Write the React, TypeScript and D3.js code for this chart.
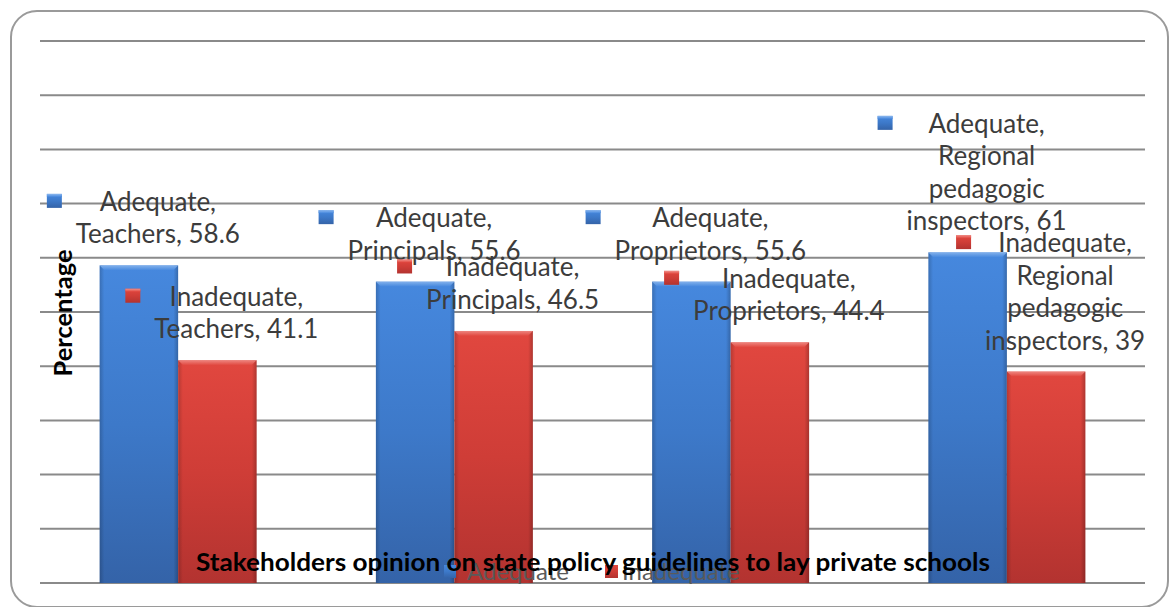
import React from "react";
import * as d3 from "d3";

const categories = ["Teachers", "Principals", "Proprietors", "Regional pedagogic inspectors"];
const categoryLines = [["Teachers"], ["Principals"], ["Proprietors"], ["Regional", "pedagogic", "inspectors"]];
const seriesNames = ["Adequate", "Inadequate"];
const adequate = [58.6, 55.6, 55.6, 61];
const inadequate = [41.1, 46.5, 44.4, 39];
const yTicks = [0, 10, 20, 30, 40, 50, 60, 70, 80, 90, 100];
const xTitle = "Stakeholders opinion on state policy guidelines to lay private schools";
const yTitle = "Percentage";

const W = 1170;
const H = 607;
const FONT = "Lato, 'Open Sans', sans-serif";
const LABEL_SIZE = 26;

let canvasCtx: CanvasRenderingContext2D | null = null;
function measure(text: string, font: string): number {
  if (!canvasCtx) {
    const c = document.createElement("canvas");
    canvasCtx = c.getContext("2d");
  }
  if (!canvasCtx) return text.length * 12;
  canvasCtx.font = font;
  return canvasCtx.measureText(text).width;
}

export default function App() {
  const x0 = d3.scaleBand<string>().domain(categories).range([40, 1145]).paddingInner(0).paddingOuter(0);
  const x1 = d3.scaleBand<string>().domain(seriesNames).range([0, x0.bandwidth()]).paddingInner(0).paddingOuter(0.76);
  const y = d3.scaleLinear().domain([0, 100]).range([583, 41]);

  const seriesValues = [adequate, inadequate];
  const grads = ["gBlue", "gRed"];
  const tops = ["tBlue", "tRed"];
  const lineH = 32.5;
  const labelFont = `${LABEL_SIZE}px Lato`;

  const bars: any[] = [];
  const labels: any[] = [];
  categories.forEach((cat, ci) => {
    seriesNames.forEach((s, si) => {
      const v = seriesValues[si][ci];
      const bx = (x0(cat) as number) + (x1(s) as number);
      const bw = x1.bandwidth();
      const by = y(v);
      const bh = y(0) - by;
      bars.push({ key: `${ci}-${si}`, bx, bw, by, bh, si });
      const cl = categoryLines[ci];
      const lines = [`${s},`, ...cl.slice(0, -1), `${cl[cl.length - 1]}, ${v}`];
      const cx = bx + bw / 2 + 19;
      const lastBase = by - 22;
      const firstBase = lastBase - (lines.length - 1) * lineH;
      const maxW = Math.max(...lines.map((l) => measure(l, labelFont)));
      labels.push({ key: `l${ci}-${si}`, lines, cx, firstBase, keyX: cx - maxW / 2 - 14 - 15, si });
    });
  });

  return (
    <svg width={W} height={H} style={{ position: "absolute", left: 0, top: 0, background: "#fff" }}>
      <defs>
        <linearGradient id="gBlue" x1="0" y1="0" x2="0" y2="1">
          <stop offset="0" stopColor="#4688de" />
          <stop offset="0.5" stopColor="#3d79c9" />
          <stop offset="1" stopColor="#3463a8" />
        </linearGradient>
        <linearGradient id="gRed" x1="0" y1="0" x2="0" y2="1">
          <stop offset="0" stopColor="#e1473f" />
          <stop offset="0.5" stopColor="#cf3d37" />
          <stop offset="1" stopColor="#b33330" />
        </linearGradient>
        <linearGradient id="edge" x1="0" y1="0" x2="1" y2="0">
          <stop offset="0" stopColor="#000" stopOpacity="0.18" />
          <stop offset="0.06" stopColor="#000" stopOpacity="0" />
          <stop offset="0.94" stopColor="#000" stopOpacity="0" />
          <stop offset="1" stopColor="#000" stopOpacity="0.22" />
        </linearGradient>
        <linearGradient id="tBlue" x1="0" y1="0" x2="0" y2="1">
          <stop offset="0" stopColor="#8db8ee" />
          <stop offset="1" stopColor="#4688de" />
        </linearGradient>
        <linearGradient id="tRed" x1="0" y1="0" x2="0" y2="1">
          <stop offset="0" stopColor="#f0908a" />
          <stop offset="1" stopColor="#e1473f" />
        </linearGradient>
      </defs>
      <rect x={11} y={11} width={1157} height={596} rx={26} fill="#fff" stroke="#9a9a9a" strokeWidth={2} />
      <g>
        {yTicks.map((t) => (
          <line key={t} x1={40} x2={1145} y1={y(t)} y2={y(t)} stroke="#8a8a8a" strokeWidth={2} />
        ))}
      </g>
      <g>
        {bars.map((b) => (
          <g key={b.key}>
            <rect x={b.bx} y={b.by} width={b.bw} height={b.bh} fill={`url(#${grads[b.si]})`} />
            <rect x={b.bx} y={b.by} width={b.bw} height={b.bh} fill="url(#edge)" />
            <path
              d={`M${b.bx},${b.by} L${b.bx + b.bw},${b.by} L${b.bx + b.bw - 5},${b.by + 5} L${b.bx + 5},${b.by + 5} Z`}
              fill={`url(#${tops[b.si]})`}
              opacity={0.85}
            />
          </g>
        ))}
      </g>
      <g fontFamily={FONT} fontSize={LABEL_SIZE} fill="#3c3c3c">
        {labels.map((l) => (
          <g key={l.key}>
            <rect x={l.keyX} y={l.firstBase - 17} width={15} height={14} fill={`url(#${grads[l.si]})`} />
            <rect x={l.keyX} y={l.firstBase - 17} width={15} height={3} fill={`url(#${tops[l.si]})`} />
            {l.lines.map((ln: string, i: number) => (
              <text key={i} x={l.cx} y={l.firstBase + i * lineH} textAnchor="middle">
                {ln}
              </text>
            ))}
          </g>
        ))}
      </g>
      <text
        transform={`translate(72,313) rotate(-90)`}
        textAnchor="middle"
        fontFamily={FONT}
        fontWeight="bold"
        fontSize={24}
        textLength={127}
        lengthAdjust="spacingAndGlyphs"
        fill="#000"
      >
        {yTitle}
      </text>
      <g fontFamily={FONT} fontSize={24} fill="#5a5a5a">
        <rect x={444} y={565} width={12} height={13} fill="url(#gBlue)" />
        <text x={467} y={580}>{seriesNames[0]}</text>
        <rect x={605} y={565} width={13} height={13} fill="url(#gRed)" />
        <text x={622} y={580}>{seriesNames[1]}</text>
      </g>
      <text
        x={593}
        y={571}
        textAnchor="middle"
        fontFamily={FONT}
        fontWeight="bold"
        fontSize={24}
        textLength={794}
        lengthAdjust="spacingAndGlyphs"
        fill="#000"
      >
        {xTitle}
      </text>
    </svg>
  );
}
